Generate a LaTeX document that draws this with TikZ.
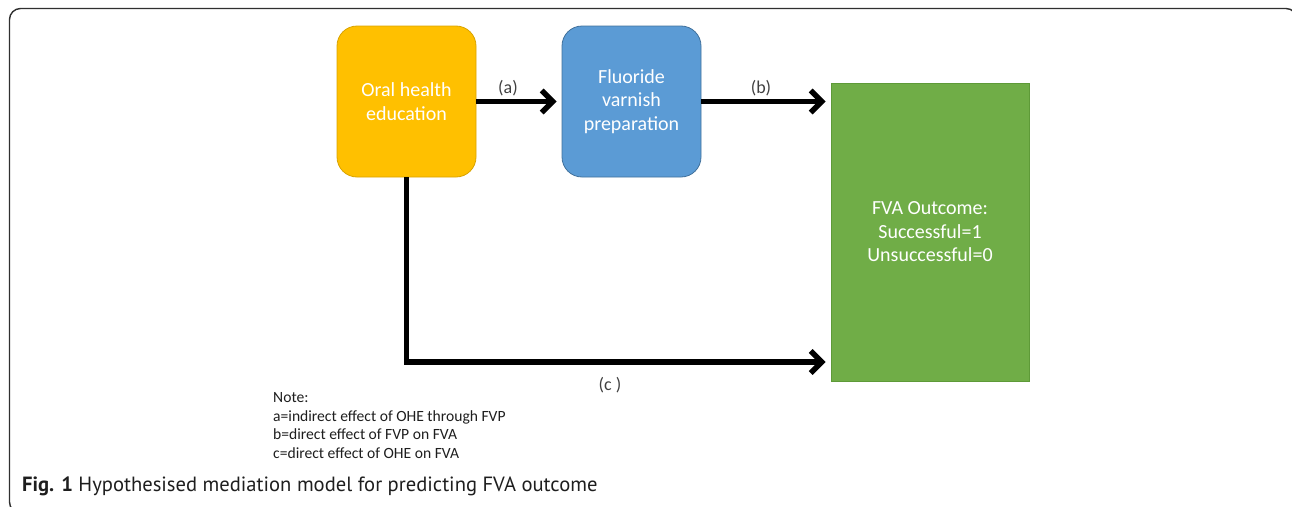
\documentclass[tikz,border=0pt]{standalone}
\usepackage{fontspec}
\setmainfont{Carlito}
\newfontfamily\capfont{PT Sans}
\usetikzlibrary{arrows.meta}
\definecolor{ohecol}{HTML}{FFC000}
\definecolor{ohedraw}{HTML}{D9A300}
\definecolor{fvpcol}{HTML}{5B9BD5}
\definecolor{fvpdraw}{HTML}{41719C}
\definecolor{fvacol}{HTML}{70AD47}
\definecolor{fvadraw}{HTML}{5E9A38}
\definecolor{labcol}{HTML}{404040}
\definecolor{notecol}{HTML}{1E1E1E}
\definecolor{framecol}{HTML}{303030}
\begin{document}
\begin{tikzpicture}[x=1pt,y=-1pt,
	box/.style={rounded corners=20pt,minimum width=139pt,minimum height=151pt,
		text=white,align=center,font=\fontsize{20}{23.5}\selectfont,line width=0.8pt},
	arr/.style={line width=5.5pt,-{Straight Barb[length=11pt,width=22pt]},shorten >=5pt},
	lbl/.style={text=labcol,font=\fontsize{18}{20}\selectfont}]
		\useasboundingbox (0,0) rectangle (1292,506);
		\begin{scope}
		\clip (0,0) rectangle (1292,506);
		\draw[line width=1.4pt][framecol][rounded corners=11pt](9.5,8.5) rectangle (1297,513);
		\end{scope}
		
		\node[box][fill=ohecol,draw=ohedraw] (OHE) at (406.5,101.5) {Oral health\\education};
		\node[box][fill=fvpcol,draw=fvpdraw] (FVP) at (631.5,101.5) {Fluoride\\varnish\\preparation};
		\node[box][sharp corners,minimum width=198pt,minimum height=298pt,
		fill=fvacol,draw=fvadraw] (FVA) at (930,232) {FVA Outcome:\\Successful=1\\Unsuccessful=0};
		
		\coordinate (cend) at (FVA.west |- 0,362);
		\draw[arr] (OHE.east) -- (FVP.west);
		\draw[arr] (FVP.east) -- (FVP.east -| FVA.west);
		\draw[arr] (OHE.south) |- (cend);
		
		\node[lbl] (la) at (508,88){(a)};
		\node[lbl] (lb) at (761,88){(b)};
		\node[lbl] (lc) at (610,385){(c )};
		
		\node[anchor=north west,inner sep=0,align=left,text=notecol,
		font=\fontsize{15.6}{18.6}\selectfont] (note) at (273,392.5)
		{Note:\\a=indirect effect of OHE through FVP\\b=direct effect of FVP on FVA\\c=direct effect of OHE on FVA};
		
		\node[anchor=base west,inner sep=0,text=notecol,font=\capfont\fontsize{20.6}{23}\selectfont]
		(cap) at (22,491){\textbf{Fig. 1} Hypothesised mediation model for predicting FVA outcome};
\end{tikzpicture}
\end{document}
